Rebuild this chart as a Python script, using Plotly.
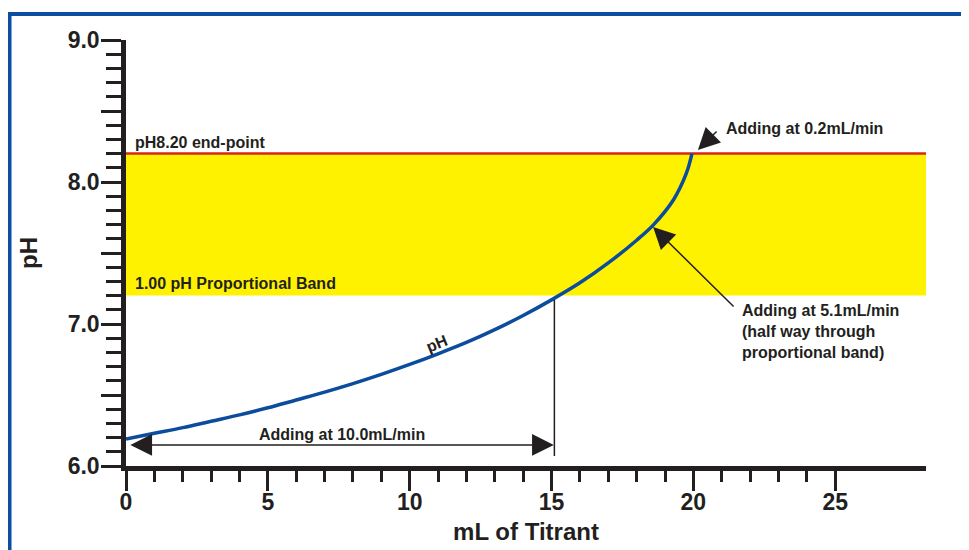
import plotly.graph_objects as go

# ---- data ----
titrant_ml = [0, 1, 2, 3, 4, 5, 6, 7, 8, 9, 10, 11, 12, 13, 14, 15, 16, 17, 18, 18.6, 19.3, 19.75, 19.95]
ph_values = [6.19, 6.23, 6.27, 6.315, 6.36, 6.41, 6.465, 6.52, 6.58, 6.645, 6.715, 6.79, 6.87, 6.96,
             7.06, 7.17, 7.29, 7.43, 7.59, 7.70, 7.875, 8.06, 8.20]

x_tick_vals = [0, 5, 10, 15, 20, 25]
x_tick_text = ["0", "5", "10", "15", "20", "25"]
x_minor_vals = [v for v in range(1, 25) if v % 5 != 0]
y_tick_vals = [6.0, 6.5, 7.0, 7.5, 8.0, 8.5, 9.0]
y_tick_text = ["6.0", "", "7.0", "", "8.0", "", "9.0"]

ENDPOINT_PH = 8.20
BAND_WIDTH = 1.00
BAND_LOW = ENDPOINT_PH - BAND_WIDTH
FAST_END_ML = 15.1
X_MAX = 28.2

TXT = "#231f20"
FONT = "Liberation Sans, Arial, sans-serif"
BLUE = "#0b4c9c"

fig = go.Figure()

fig.add_trace(go.Scatter(
    x=titrant_ml, y=ph_values, mode="lines",
    line=dict(color=BLUE, width=3.5, shape="spline", smoothing=1.0),
    hoverinfo="skip", showlegend=False,
))
# invisible companion trace so the minor-tick axis is drawn
fig.add_trace(go.Scatter(
    x=titrant_ml, y=ph_values, mode="none", xaxis="x2",
    hoverinfo="skip", showlegend=False,
))

shapes = [
    # proportional band
    dict(type="rect", xref="x", yref="y", x0=0, x1=X_MAX, y0=BAND_LOW, y1=ENDPOINT_PH,
         fillcolor="#fff200", line=dict(width=0), layer="below"),
    # end-point line
    dict(type="line", xref="x", yref="y", x0=0, x1=X_MAX, y0=ENDPOINT_PH, y1=ENDPOINT_PH,
         line=dict(color="#d7261e", width=2.5), layer="below"),
    # vertical marker at end of fast addition
    dict(type="line", xref="x", yref="y", x0=FAST_END_ML, x1=FAST_END_ML, y0=6.07, y1=7.17,
         line=dict(color=TXT, width=1.5)),
    # blue frame
    dict(type="rect", xref="paper", yref="paper", x0=-0.1456, x1=1.2, y0=-0.4, y1=1.061,
         line=dict(color="#0d4ea0", width=4), fillcolor="rgba(0,0,0,0)", layer="below"),
]

af = dict(family=FONT, size=16, color=TXT, weight="bold")
arrow = dict(showarrow=True, arrowhead=2, arrowsize=2.9, arrowwidth=1.5, arrowcolor=TXT, standoff=0)
annotations = [
    dict(x=0, y=ENDPOINT_PH, xref="x", yref="y", text="pH8.20 end-point", showarrow=False,
         xanchor="left", yanchor="bottom", xshift=7, yshift=1, font=af),
    dict(x=0, y=BAND_LOW, xref="x", yref="y", text="1.00 pH Proportional Band", showarrow=False,
         xanchor="left", yanchor="bottom", xshift=7, yshift=2, font=af),
    # arrow to end point
    dict(x=20.16, y=8.225, ax=20.87, ay=8.366, xref="x", yref="y", axref="x", ayref="y",
         text="", **arrow),
    dict(x=21.08, y=8.38, xref="x", yref="y", text="Adding at 0.2mL/min", showarrow=False,
         xanchor="left", yanchor="middle", font=af),
    # arrow to mid band
    dict(x=18.58, y=7.683, ax=21.47, ay=7.113, xref="x", yref="y", axref="x", ayref="y",
         text="", **arrow),
    dict(x=21.64, y=7.17, xref="x", yref="y",
         text="Adding at 5.1mL/min<br>(half way through<br>proportional band)", showarrow=False,
         xanchor="left", yanchor="top", align="left", font=af),
    # double arrow for fast addition
    dict(x=FAST_END_ML - 0.02, y=6.148, ax=0.1, ay=6.148, xref="x", yref="y", axref="x", ayref="y",
         text="", arrowside="end+start", startarrowhead=2, startarrowsize=2.9, startstandoff=0, **arrow),
    dict(x=7.61, y=6.225, xref="x", yref="y", text="Adding at 10.0mL/min", showarrow=False,
         xanchor="center", yanchor="middle", font=af),
    # curve label
    dict(x=10.96, y=6.866, xref="x", yref="y", text="pH", showarrow=False, textangle=-22,
         xanchor="center", yanchor="middle", font=af),
]

axis_font = dict(family=FONT, size=23, color=TXT, weight="bold")
title_font = dict(family=FONT, size=24, color=TXT, weight="bold")

fig.update_layout(
    width=969, height=550,
    margin=dict(l=118, r=51, t=32, b=92),
    paper_bgcolor="white", plot_bgcolor="white",
    shapes=shapes, annotations=annotations, showlegend=False,
    xaxis=dict(
        range=[0, X_MAX], tickmode="array", tickvals=x_tick_vals, ticktext=x_tick_text,
        showgrid=False, zeroline=False, showline=True, linecolor=TXT, linewidth=4.5,
        ticks="outside", ticklen=20, tickwidth=3, tickcolor=TXT, tickfont=axis_font,
        ticklabelstandoff=-8,
        title=dict(text="mL of Titrant", font=title_font, standoff=10),
        automargin=False, fixedrange=True,
    ),
    xaxis2=dict(
        range=[0, X_MAX], overlaying="x", anchor="y", side="bottom",
        tickmode="array", tickvals=x_minor_vals, showticklabels=False,
        showgrid=False, zeroline=False, showline=False,
        ticks="outside", ticklen=15, tickwidth=3, tickcolor=TXT,
        automargin=False, fixedrange=True,
    ),
    yaxis=dict(
        range=[6, 9], tickmode="array", tickvals=y_tick_vals, ticktext=y_tick_text,
        showgrid=False, zeroline=False, showline=True, linecolor=TXT, linewidth=4.5,
        ticks="outside", ticklen=20, tickwidth=3, tickcolor=TXT, tickfont=axis_font,
        ticklabelstandoff=-3,
        minor=dict(dtick=0.1, ticks="outside", ticklen=15, tickwidth=3, tickcolor=TXT, showgrid=False),
        title=dict(text="pH", font=title_font, standoff=25),
        automargin=False, fixedrange=True,
    ),
)

fig.write_html("out.html")
